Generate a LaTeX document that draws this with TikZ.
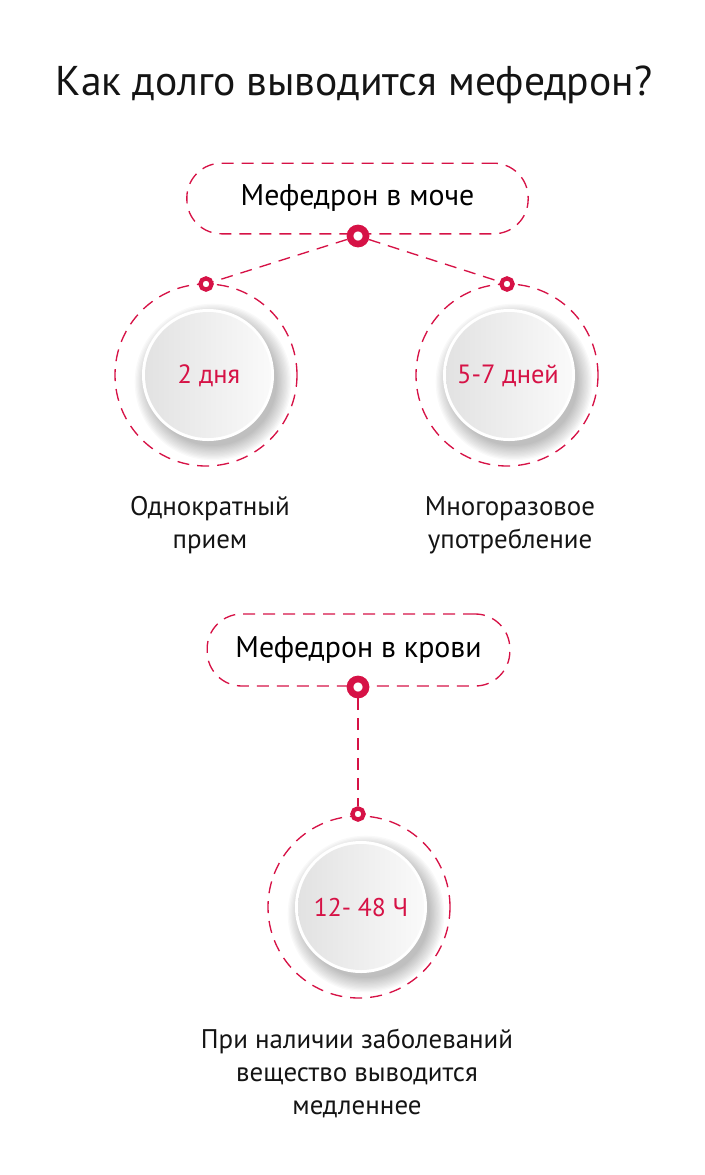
\documentclass[tikz,border=0pt]{standalone}
\usepackage{fontspec}
\setmainfont{PT Sans}
\usetikzlibrary{positioning}
\definecolor{Accent}{RGB}{214,18,70}
\definecolor{Ink}{RGB}{20,20,20}
\definecolor{DiscDark}{RGB}{226,226,226}
\definecolor{DiscLight}{RGB}{250,250,250}

\tikzset{
  dashline/.style={Accent, line width=1pt, dash pattern=on 9pt off 6pt},
  pill/.style={draw=Accent, line width=1pt, dash pattern=on 9pt off 6pt, rounded corners=26pt, inner sep=0pt},
  bigring/.style={circle, draw=Accent, line width=5pt, fill=white, minimum size=12pt, inner sep=0pt},
  smallring/.style={circle, draw=Accent, line width=3.2pt, fill=white, minimum size=8.4pt, inner sep=0pt},
  value/.style={Accent, font=\fontsize{19.8}{24}\selectfont},
  caption/.style={Ink, align=center, font=\fontsize{20.2}{24.75}\selectfont},
}

\begin{document}
\begin{tikzpicture}[x=0.75pt, y=0.75pt]
\useasboundingbox (0,0) rectangle (705,-1175);

% title
\node[Ink, font=\fontsize{31.2}{36}\selectfont] (title) at (354,-85) {Как долго выводится мефедрон?};

% urine block
\node[pill, minimum width=256pt, minimum height=53pt, font=\fontsize{22.4}{26}\selectfont] (urine) at (357.5,-198.5) {Мефедрон в моче};
\draw[dashline] (206,-375) circle[radius=91];
\draw[dashline] (507,-375) circle[radius=91];
\foreach \cx/\cy in {208/375, 509/375, 361/907}{
  \foreach \i in {0,...,11}
    \fill[black, opacity=0.022] ({\cx+5},{-\cy-7}) circle[radius={64+\i*1.3}];
  \fill[white] (\cx,-\cy) circle[radius=66];
  \shade[left color=DiscDark, right color=DiscLight] (\cx,-\cy) circle[radius=63];
}
\node[bigring] (uTop) at (358,-236) {};
\node[smallring] (uLeft) at (206,-284) {};
\node[smallring] (uRight) at (507,-284) {};
\draw[dashline] (uTop) -- (uLeft);
\draw[dashline] (uTop) -- (uRight);
\node[value] (once) at (209,-376) {2 дня};
\node[value] (often) at (508,-376) {5-7 дней};
\node[caption] (onceText) at (210,-525) {Однократный\\прием};
\node[caption] (oftenText) at (510,-525) {Многоразовое\\употребление};

% blood block
\node[pill, minimum width=227pt, minimum height=54pt, font=\fontsize{22.4}{26}\selectfont] (blood) at (358.5,-650) {Мефедрон в крови};
\draw[dashline] (359,-907) circle[radius=91];
\node[bigring] (bTop) at (358,-687) {};
\node[smallring] (bLow) at (358,-814) {};
\draw[dashline] (bTop) -- (bLow);
\node[value, font=\fontsize{19.2}{24}\selectfont] (hours) at (361,-908) {12- 48 Ч};
\node[caption] (bloodText) at (357,-1073) {При наличии заболеваний\\вещество выводится\\медленнее};
\end{tikzpicture}
\end{document}
